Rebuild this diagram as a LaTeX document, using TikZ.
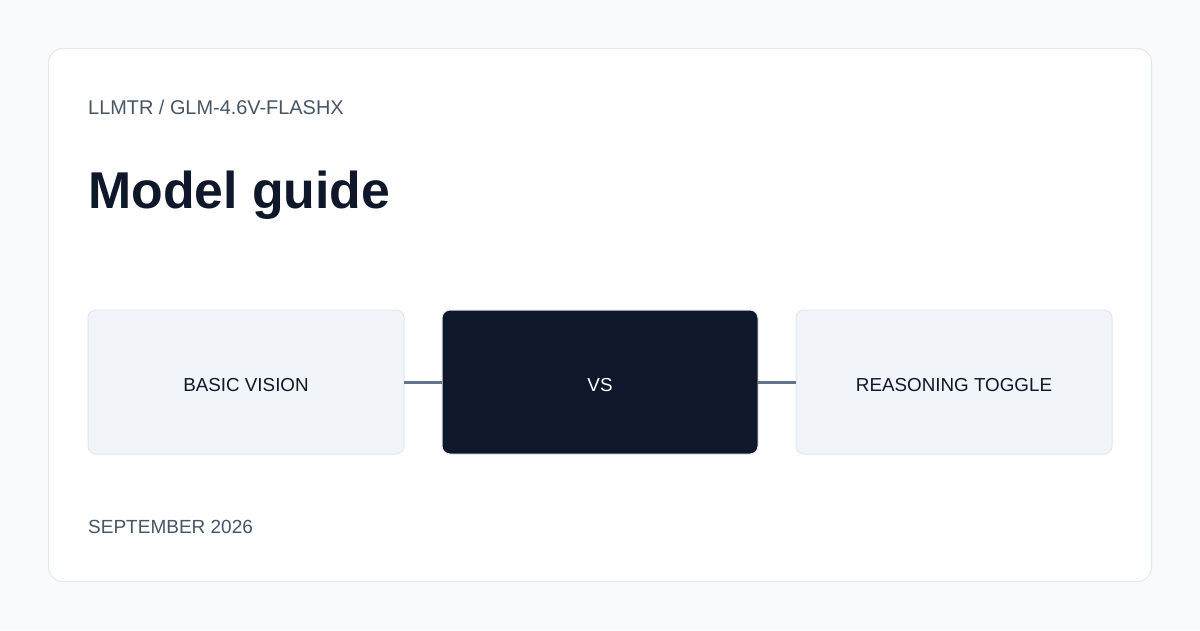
\documentclass[tikz,border=0pt]{standalone}
\usepackage{fontspec}
\setmainfont{Liberation Sans}
\usepackage{xcolor}
\usetikzlibrary{positioning}
\definecolor{pagebg}{HTML}{F8FAFC}
\definecolor{cardline}{HTML}{E2E8F0}
\definecolor{boxfill}{HTML}{F1F5F9}
\definecolor{ink}{HTML}{0F172A}
\definecolor{muted}{HTML}{475569}
\definecolor{wire}{HTML}{64748B}

\begin{document}
\begin{tikzpicture}[x=1pt, y=-1pt,
	choice/.style={draw=cardline, fill=boxfill, line width=1pt, rounded corners=8pt,
		minimum width=316pt, minimum height=144pt, inner sep=0pt, outer sep=0pt,
		text height=18.5pt, text depth=0pt, text=ink,
		font=\fontsize{18.8}{22}\selectfont},
	versus/.style={choice, fill=ink, draw=cardline, text=white},
	link/.style={draw=wire, line width=3pt},
	small/.style={anchor=base west, inner sep=0pt, text=muted}]
	\fill[pagebg] (0,0) rectangle (1200,630);
	\draw[fill=white, draw=cardline, line width=1pt, rounded corners=14pt] (48.5,48.5) rectangle (1151.5,581.5);
	% texts
	\node[small, font=\fontsize{19.9}{24}\selectfont] (kicker) at (88,114) {LLMTR / GLM-4.6V-FLASHX};
	\node[anchor=base west, inner sep=0pt, text=ink, font=\fontsize{51.8}{60}\selectfont\bfseries] (title) at (88,208) {Model guide};
	\node[small, font=\fontsize{19}{23}\selectfont] (date) at (88,533) {SEPTEMBER 2026};
	% boxes
	\node[versus] (vs) at (600,382) {VS};
	\node[choice, left=38pt of vs] (basic) {BASIC VISION};
	\node[choice, right=38pt of vs] (toggle) {REASONING TOGGLE};
	\draw[link] (basic) -- (vs);
	\draw[link] (vs) -- (toggle);
\end{tikzpicture}
\end{document}
